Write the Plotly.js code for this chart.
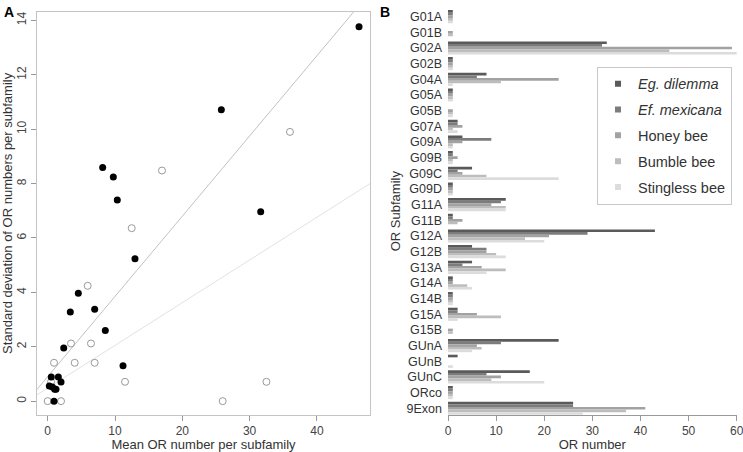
<!DOCTYPE html>
<html><head><meta charset="utf-8">
<script src="https://cdn.plot.ly/plotly-3.0.1.min.js"></script>
<style>html,body{margin:0;padding:0;background:#fff}#chart{width:743px;height:452px}</style>
</head><body><div id="chart"></div>
<script>
// Panel A data
const filledX = [46.26, 25.8, 8.17, 9.75, 10.34, 31.65, 12.97, 4.55, 3.36, 6.98, 8.56, 2.38, 11.19, 0.53, 1.58, 1.98, 0.24, 0.69, 1.04, 1.23, 0.94];
const filledY = [13.77, 10.71, 8.59, 8.24, 7.40, 6.96, 5.24, 3.97, 3.28, 3.38, 2.60, 1.95, 1.30, 0.89, 0.89, 0.70, 0.56, 0.52, 0.44, 0.44, 0];
const openX = [36.0, 16.98, 12.48, 5.94, 3.46, 6.43, 0.94, 4.01, 6.98, 11.49, 32.5, 0, 1.98, 26.0, 0.5];
const openY = [9.90, 8.48, 6.36, 4.24, 2.12, 2.12, 1.41, 1.41, 1.41, 0.71, 0.71, 0, 0, 0, 0.71];
const fitIntercepts = [0.9, 0.48];
const fitSlopes = [0.295, 0.157];
const fitColors = ['#c2c2c2', '#e2e2e2'];
const xRangeA = [-1.59, 47.89];

// Panel B data
const subfamilies = ['G01A','G01B','G02A','G02B','G04A','G05A','G05B','G07A','G09A','G09B','G09C','G09D','G11A','G11B','G12A','G12B','G13A','G14A','G14B','G15A','G15B','GUnA','GUnB','GUnC','ORco','9Exon'];
const species = ['<i>Eg. dilemma</i>', '<i>Ef. mexicana</i>', 'Honey bee', 'Bumble bee', 'Stingless bee'];
const egDilemma   = [1,0,33,1,8,1,0,2,3,1,5,1,12,1,43,5,5,1,1,2,0,23,2,17,1,26];
const efMexicana  = [1,0,32,1,6,1,0,2,9,1,2,1,11,1,29,8,3,1,1,2,0,11,0,8,1,26];
const honeyBee    = [1,1,59,1,23,1,1,3,3,2,3,1,9,3,21,8,7,1,1,6,1,6,0,11,1,41];
const bumbleBee   = [1,1,46,1,11,1,1,1,1,1,8,1,12,2,16,10,12,4,1,11,1,7,0,9,1,37];
const stinglessBee= [1,0,61,1,1,1,1,2,1,1,23,1,12,0,20,12,8,5,1,2,0,5,1,20,1,28];
const seriesB = [egDilemma, efMexicana, honeyBee, bumbleBee, stinglessBee];
const barColors = ['#5a5a5a', '#7c7c7c', '#a2a2a2', '#bdbdbd', '#dcdcdc'];

const traces = [];
for (let i = 0; i < fitSlopes.length; i++) {
  const xs = [xRangeA[0] - 5, xRangeA[1] + 5];
  traces.push({x: xs, y: xs.map(v => fitIntercepts[i] + fitSlopes[i] * v), mode: 'lines',
    line: {color: fitColors[i], width: 1}, showlegend: false, hoverinfo: 'skip', xaxis: 'x', yaxis: 'y'});
}
traces.push({x: openX, y: openY, mode: 'markers', type: 'scatter', showlegend: false,
  marker: {symbol: 'circle-open', size: 7, color: '#999', line: {width: 1, color: '#999'}}, xaxis: 'x', yaxis: 'y'});
traces.push({x: filledX, y: filledY, mode: 'markers', type: 'scatter', showlegend: false,
  marker: {symbol: 'circle', size: 7, color: '#000'}, xaxis: 'x', yaxis: 'y'});

seriesB.forEach((vals, i) => {
  traces.push({type: 'bar', orientation: 'h', y: subfamilies, x: vals, name: species[i],
    marker: {color: barColors[i]}, showlegend: false, xaxis: 'x2', yaxis: 'y2'});
});
// legend entries
seriesB.forEach((vals, i) => {
  traces.push({type: 'scatter', mode: 'markers', x: [null], y: [null], name: species[i],
    legendgroup: 'g' + i, marker: {symbol: 'square', size: 6, color: barColors[i]},
    xaxis: 'x2', yaxis: 'y2'});
});

const fnt = {family: 'Liberation Sans, Arial, sans-serif', color: '#333'};
const layout = {
  width: 743, height: 452,
  margin: {l: 0, r: 0, t: 0, b: 0},
  paper_bgcolor: '#fff', plot_bgcolor: '#fff',
  font: {family: fnt.family, color: '#333', size: 12},
  showlegend: true,
  bargap: 0.16, bargroupgap: 0,
  xaxis: {domain: [37/743, 370/743], range: xRangeA, showgrid: false, zeroline: false,
    showline: true, mirror: true, linecolor: '#c4c4c4', linewidth: 1,
    ticks: 'outside', ticklen: 5, tickcolor: '#999', tickvals: [0,10,20,30,40],
    tickfont: {size: 12, color: '#444'},
    title: {text: 'Mean OR number per subfamily', font: {size: 13, color: '#333'}, standoff: 4}},
  yaxis: {domain: [37/452, (452-11.7)/452], range: [-0.51, 14.32], showgrid: false, zeroline: false,
    showline: true, mirror: true, linecolor: '#c4c4c4', linewidth: 1,
    ticks: 'outside', ticklen: 5, tickcolor: '#999', tickvals: [0,2,4,6,8,10,12,14], tickangle: -90,
    tickfont: {size: 12, color: '#444'},
    title: {text: 'Standard deviation of OR numbers per subfamily', font: {size: 13, color: '#333'}, standoff: 2}},
  xaxis2: {domain: [448/743, 736.7/743], range: [0, 60], anchor: 'y2', showgrid: false, zeroline: false,
    showline: true, linecolor: '#999', ticks: 'outside', ticklen: 5, tickcolor: '#999',
    tickvals: [0,10,20,30,40,50,60], tickfont: {size: 12, color: '#444'}, ticklabeloverflow: 'allow',
    title: {text: 'OR number', font: {size: 13, color: '#333'}, standoff: 4}},
  yaxis2: {domain: [37/452, (452-7.3)/452], anchor: 'x2', type: 'category', range: [25.43, -0.6],
    showgrid: false, zeroline: false, showline: false, ticks: '', ticklabelstandoff: 5,
    tickfont: {size: 12.5, color: '#333'},
    title: {text: 'OR Subfamily', font: {size: 13, color: '#333'}, standoff: 2}},
  legend: {x: 597/743, y: (452-66.7)/452, xanchor: 'left', yanchor: 'top',
    bgcolor: '#fff', bordercolor: '#c8c8c8', borderwidth: 1, entrywidth: 102,
    font: {size: 14.5, color: '#333', family: fnt.family}, tracegroupgap: 4, traceorder: 'grouped'},
  annotations: [
    {text: '<b>A</b>', x: 2/743, y: 1 - 2/452, xref: 'paper', yref: 'paper', xanchor: 'left', yanchor: 'top', showarrow: false, font: {size: 14, color: '#000'}},
    {text: '<b>B</b>', x: 378/743, y: 1 - 2/452, xref: 'paper', yref: 'paper', xanchor: 'left', yanchor: 'top', showarrow: false, font: {size: 14, color: '#000'}}
  ]
};
Plotly.newPlot('chart', traces, layout, {displayModeBar: false, staticPlot: true});
</script></body></html>
